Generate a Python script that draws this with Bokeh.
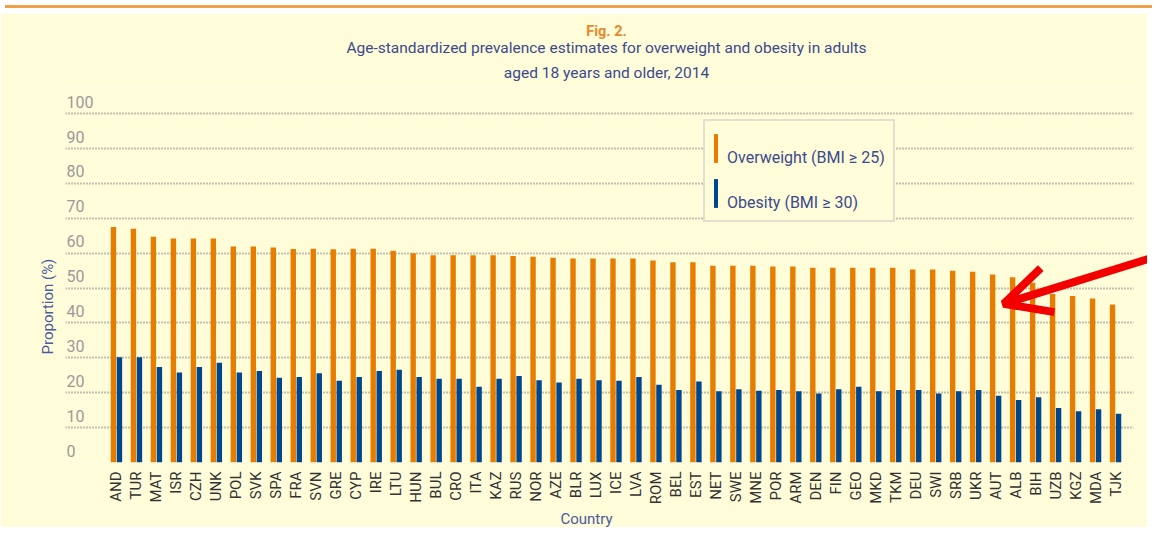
import math
from bokeh.plotting import figure
from bokeh.models import (ColumnDataSource, Range1d, FixedTicker, Legend, LegendItem,
                          Title, Arrow, OpenHead, Div, BoxAnnotation)
from bokeh.layouts import column
from bokeh.transform import dodge
from bokeh.core.properties import value
from bokeh.embed import file_html
from bokeh.resources import INLINE

# ---------------- data ----------------
countries = ["AND", "TUR", "MAT", "ISR", "CZH", "UNK", "POL", "SVK", "SPA", "FRA",
             "SVN", "GRE", "CYP", "IRE", "LTU", "HUN", "BUL", "CRO", "ITA", "KAZ",
             "RUS", "NOR", "AZE", "BLR", "LUX", "ICE", "LVA", "ROM", "BEL", "EST",
             "NET", "SWE", "MNE", "POR", "ARM", "DEN", "FIN", "GEO", "MKD", "TKM",
             "DEU", "SWI", "SRB", "UKR", "AUT", "ALB", "BIH", "UZB", "KGZ", "MDA", "TJK"]
overweight = [67.5, 67.0, 64.7, 64.2, 64.2, 64.2, 61.9, 61.9, 61.6, 61.2,
              61.3, 61.1, 61.3, 61.3, 60.7, 60.0, 59.4, 59.4, 59.4, 59.4,
              59.2, 59.0, 58.7, 58.5, 58.5, 58.5, 58.5, 57.9, 57.4, 57.4,
              56.4, 56.4, 56.4, 56.2, 56.2, 55.8, 55.8, 55.8, 55.8, 55.8,
              55.3, 55.3, 55.0, 54.7, 53.9, 53.1, 51.5, 48.3, 47.7, 47.0, 45.3]
obesity = [30.2, 30.2, 27.4, 25.8, 27.4, 28.6, 25.8, 26.2, 24.3, 24.5,
           25.6, 23.4, 24.5, 26.2, 26.6, 24.5, 24.0, 24.0, 21.7, 24.0,
           24.8, 23.6, 22.9, 24.0, 23.6, 23.4, 24.5, 22.3, 20.8, 23.2,
           20.4, 21.0, 20.6, 20.8, 20.4, 19.8, 21.0, 21.7, 20.4, 20.8,
           20.8, 19.8, 20.4, 20.8, 19.1, 17.9, 18.7, 15.6, 14.7, 15.3, 14.0]
y_ticks = [0, 10, 20, 30, 40, 50, 60, 70, 80, 90, 100]
y_tick_labels = [str(v) for v in y_ticks]
series_names = ["Overweight (BMI \u2265 25)", "Obesity (BMI \u2265 30)"]
title_fig = "Fig. 2."
title_l1 = "Age-standardized prevalence estimates for overweight and obesity in adults"
title_l2 = "aged 18 years and older, 2014"
x_title = "Country"
y_title = "Proportion (%)"

# ---------------- styles ----------------
CREAM = "#FFFCDA"
ORANGE = "#E67C00"
BLUE = "#00468C"
TXT_BLUE = "#3C4A8C"
AX_BLUE = "#4A5AA0"
FONT = "Roboto"

idx = list(range(len(countries)))
src = ColumnDataSource(dict(idx=idx, country=countries, ow=overweight, ob=obesity))

X0, X_GRID_END, X1 = -2.55, 50.9, 51.6
p = figure(width=1147, height=514, output_backend="svg", toolbar_location=None,
           x_range=Range1d(X0, X1), y_range=Range1d(0, 107.5),
           min_border_left=65, min_border_right=0, min_border_top=74, min_border_bottom=62)
p.background_fill_color = CREAM
p.border_fill_color = CREAM
p.outline_line_color = None

r_ow = p.vbar(x=dodge("idx", -0.15, range=p.x_range), top="ow", width=0.27, source=src,
              fill_color=ORANGE, line_color=None)
r_ob = p.vbar(x=dodge("idx", 0.15, range=p.x_range), top="ob", width=0.27, source=src,
              fill_color=BLUE, line_color=None)

# grid
p.xgrid.visible = False
p.ygrid.ticker = FixedTicker(ticks=y_ticks)
p.ygrid.grid_line_color = "#858585"
p.ygrid.grid_line_dash = "1 2"
p.ygrid.grid_line_width = 1.8
# plain margin to the right of the chart area (grid lines stop before it)
p.add_layout(BoxAnnotation(left=X_GRID_END, fill_color=CREAM, fill_alpha=1.0,
                           line_color=None))

# x axis
p.xaxis.ticker = FixedTicker(ticks=idx)
p.xaxis.major_label_overrides = {i: c for i, c in zip(idx, countries)}
p.xaxis.major_label_orientation = math.pi / 2
p.xaxis.major_label_text_font = FONT
p.xaxis.major_label_text_font_size = "15px"
p.xaxis.major_label_text_color = "#333333"
p.xaxis.major_label_standoff = 3
p.xaxis.major_tick_line_color = None
p.xaxis.minor_tick_line_color = None
p.xaxis.axis_line_color = None

# y axis hidden; tick labels drawn inside the frame above each grid line
p.yaxis.visible = False
p.text(x=[X0] * len(y_ticks), y=y_ticks, text=y_tick_labels, x_offset=1, y_offset=-6,
       text_align="left", text_baseline="bottom", text_font=value(FONT),
       text_font_size="16px", text_color="#9A9A9A")

# axis titles
p.add_layout(Title(text=x_title, align="left", offset=495, standoff=0, text_font=FONT,
                   text_font_size="15px", text_font_style="normal", text_color=AX_BLUE),
             "below")
p.add_layout(Title(text=y_title, align="left", offset=108, standoff=18, text_font=FONT,
                   text_font_size="15px", text_font_style="normal", text_color=AX_BLUE),
             "left")

# legend
legend = Legend(items=[LegendItem(label="\n" + series_names[0], renderers=[r_ow]),
                       LegendItem(label="\n" + series_names[1], renderers=[r_ob])],
                location=(638, 240), orientation="vertical")
legend.glyph_width = 5
legend.glyph_height = 36
legend.label_height = 36
legend.spacing = 7
legend.padding = 8
legend.margin = 0
legend.label_standoff = 9
legend.label_text_font = FONT
legend.label_text_font_size = "16px"
legend.label_text_line_height = 0.8
legend.label_text_color = TXT_BLUE
legend.background_fill_color = CREAM
legend.background_fill_alpha = 1.0
legend.border_line_color = "#C4C4C4"
legend.border_line_width = 2
p.add_layout(legend, "center")

# titles (added innermost first)
for txt, col, style, size, so in [(title_l2, TXT_BLUE, "normal", "15.5px", 11),
                                  (title_l1, TXT_BLUE, "normal", "15.5px", -1),
                                  (title_fig, "#E8892B", "bold", "14.5px", -5)]:
    p.add_layout(Title(text=txt, align="center", text_font=FONT, text_font_size=size,
                       text_color=col, text_font_style=style, standoff=so), "above")

# red annotation arrow pointing at AUT
p.add_layout(Arrow(end=OpenHead(size=46, line_color="#F20000", line_width=8),
                   x_start=52.4, y_start=59.7, x_end=44.4, y_end=45.5,
                   line_color="#F20000", line_width=8))

topline = Div(text="", width=1147, height=3, styles={"background-color": "#F0A048"})
layout = column(topline, p)

open("out.html", "w").write(file_html(layout, INLINE))
